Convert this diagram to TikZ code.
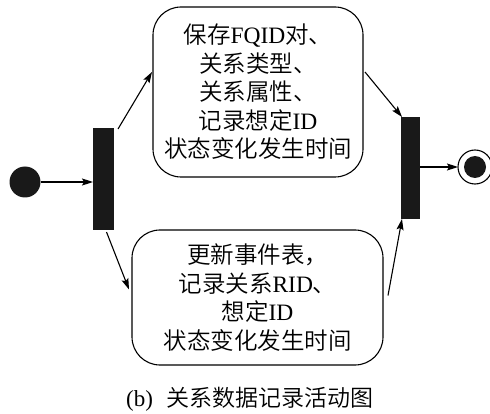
\documentclass[tikz,border=0pt]{standalone}
\usepackage{fontspec}
\setmainfont{Liberation Serif}
\newfontfamily\cjk{Noto Sans CJK SC DemiLight}
\usetikzlibrary{arrows.meta}
\begin{document}
\begin{tikzpicture}[x=1pt,y=-1pt,
  every node/.style={inner sep=0pt,outer sep=0pt},
  activity/.style={draw,line width=1.1pt,rounded corners=28pt,align=center,
    font=\fontsize{23.5}{28.5}\selectfont},
  bar/.style={fill=black!90,draw=none},
  flow/.style={line width=1.1pt,-{Stealth[length=11pt,width=7pt,inset=2pt]}}]
\useasboundingbox (0,0) rectangle (490,414);
% initial and final states
\node[circle,fill=black!90,minimum size=31pt] (start) at (25,182) {};
\node[circle,draw,line width=1.1pt,minimum size=34pt] (end) at (475,167) {};
\node[circle,fill=black!90,minimum size=22pt] (endin) at (475,167) {};
% fork and join bars
\node[bar,minimum width=21pt,minimum height=102pt] (fork) at (103.5,179) {};
\node[bar,minimum width=19pt,minimum height=102pt] (join) at (410.5,168) {};
% activities
\node[activity,minimum width=210pt,minimum height=170pt] (top) at (258,92)
  {{\cjk 保存}FQID{\cjk 对、}\\{\cjk 关系类型、}\\{\cjk 关系属性、}\\{\cjk 记录想定}ID\\{\cjk 状态变化发生时间}};
\node[activity,minimum width=251pt,minimum height=135pt] (bottom) at (257.5,297.5)
  {{\cjk 更新事件表，}\\{\cjk 记录关系}RID{\cjk 、}\\{\cjk 想定}ID\\{\cjk 状态变化发生时间}};
% transitions
\draw[flow] (start.east) -- (start.east -| fork.west);
\draw[flow] ([xshift=4pt,yshift=-1pt]fork.north east) -- ([xshift=-1pt,yshift=20pt]top.west);
\draw[flow] ([xshift=3pt,yshift=-2pt]fork.south) -- ([xshift=-3pt,yshift=8pt]bottom.west);
\draw[flow] ([xshift=2pt,yshift=20pt]top.east) -- ([xshift=1pt]join.north west);
\draw[flow] ([xshift=5pt,yshift=2pt]bottom.east) -- ([xshift=1pt]join.south west);
\draw[flow] (join.east |- end.west) -- (end.west);
% caption
\node[font=\fontsize{23}{28}\selectfont] (cap) at (250,399) {(b)\hspace{0.6em}{\cjk 关系数据记录活动图}};
\end{tikzpicture}
\end{document}
